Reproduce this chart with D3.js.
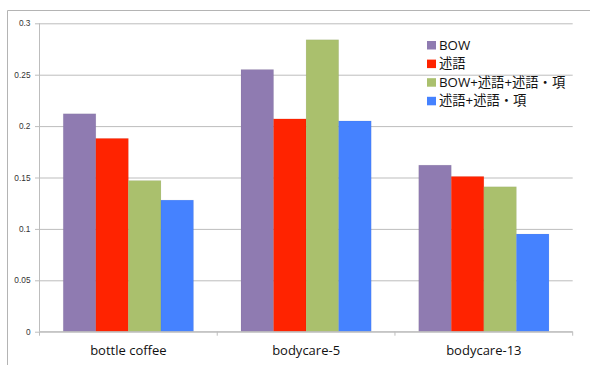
<!DOCTYPE html>
<html>
<head>
<meta charset="utf-8">
<script src="https://cdn.jsdelivr.net/npm/d3@7"></script>
<style>
  html, body { margin: 0; padding: 0; background: #fff; }
  svg { display: block; }
</style>
</head>
<body>
<svg id="chart" width="590" height="365"></svg>
<script>
// Scores per dataset for each feature set
const categories = ["bottle coffee", "bodycare-5", "bodycare-13"];
const seriesNames = ["BOW", "述語", "BOW+述語+述語・項", "述語+述語・項"];
const seriesColors = ["#8f7bb1", "#ff2300", "#aac06d", "#4582ff"];
const valuesBOW = [0.212, 0.255, 0.162];
const valuesPred = [0.188, 0.207, 0.151];
const valuesAll = [0.147, 0.284, 0.141];
const valuesPredArg = [0.128, 0.205, 0.095];
const yTicks = [0, 0.05, 0.1, 0.15, 0.2, 0.25, 0.3];
const yTickLabels = ["0", "0.05", "0.1", "0.15", "0.2", "0.25", "0.3"];

const seriesValues = [valuesBOW, valuesPred, valuesAll, valuesPredArg];

const svg = d3.select("#chart");
const plotLeft = 39.5, plotRight = 572.7, plotTop = 23.3, plotBottom = 331.7;
const gridColor = "#bdbdbd";

// outer frame (top and left edges)
svg.append("path")
  .attr("d", "M7.5,365V10.5H590")
  .attr("fill", "none")
  .attr("stroke", "#b4b4b4")
  .attr("stroke-width", 1);

const x0 = d3.scaleBand().domain(categories).range([plotLeft, plotRight]).padding(0);
const x1 = d3.scaleBand().domain(d3.range(seriesNames.length))
  .range([0, x0.bandwidth()]).paddingInner(0).paddingOuter(0.73);
const y = d3.scaleLinear().domain([0, 0.3]).range([plotBottom, plotTop]);

// horizontal gridlines with y tick labels
const yAxis = svg.append("g")
  .attr("transform", `translate(${plotLeft},0)`)
  .call(d3.axisLeft(y).tickValues(yTicks)
    .tickFormat((d, i) => yTickLabels[i])
    .tickSize(-(plotRight - plotLeft)).tickSizeOuter(0).tickPadding(9));
yAxis.select(".domain").remove();
yAxis.selectAll(".tick line")
  .attr("x1", -4.5)
  .attr("stroke", gridColor);
yAxis.selectAll(".tick text")
  .attr("font-family", "'Liberation Sans', Arial, sans-serif")
  .attr("font-size", 8.3)
  .attr("fill", "#333");

// vertical axis line
svg.append("line")
  .attr("x1", plotLeft).attr("x2", plotLeft)
  .attr("y1", y(0.3)).attr("y2", y(0))
  .attr("stroke", gridColor);

// bars
const groups = svg.append("g").selectAll("g")
  .data(categories)
  .join("g")
  .attr("transform", d => `translate(${x0(d)},0)`);

groups.selectAll("rect")
  .data((c, ci) => seriesValues.map((vals, si) => ({ si, v: vals[ci] })))
  .join("rect")
  .attr("x", d => x1(d.si))
  .attr("width", x1.bandwidth())
  .attr("y", d => y(d.v))
  .attr("height", d => y(0) - y(d.v))
  .attr("fill", d => seriesColors[d.si])
  .attr("stroke", "rgba(0,0,0,0.06)")
  .attr("stroke-width", 0.8);

// category axis
const xAxis = svg.append("g")
  .attr("transform", `translate(0,${plotBottom})`)
  .call(d3.axisBottom(x0).tickSize(0).tickPadding(14));
xAxis.select(".domain").attr("stroke", gridColor).attr("d", `M${plotLeft},0H${plotRight}`);
xAxis.selectAll(".tick text")
  .attr("font-family", "'Open Sans', sans-serif")
  .attr("font-size", 13)
  .attr("fill", "#111");

// category boundary ticks
svg.append("g").selectAll("line")
  .data(d3.range(categories.length + 1))
  .join("line")
  .attr("x1", i => plotLeft + i * x0.step())
  .attr("x2", i => plotLeft + i * x0.step())
  .attr("y1", plotBottom).attr("y2", plotBottom + 4)
  .attr("stroke", gridColor);

// legend
const legend = svg.append("g").attr("transform", "translate(427,41)");
const rows = legend.selectAll("g")
  .data(seriesNames)
  .join("g")
  .attr("transform", (d, i) => `translate(0,${i * 18.6})`);
rows.append("rect")
  .attr("width", 9).attr("height", 8.5)
  .attr("fill", (d, i) => seriesColors[i]);
rows.append("text")
  .attr("x", 12)
  .attr("y", 8.5)
  .attr("font-family", "'Open Sans', 'Noto Sans CJK JP', sans-serif")
  .attr("font-size", 13.3)
  .attr("fill", "#111")
  .text(d => d);
</script>
</body>
</html>
